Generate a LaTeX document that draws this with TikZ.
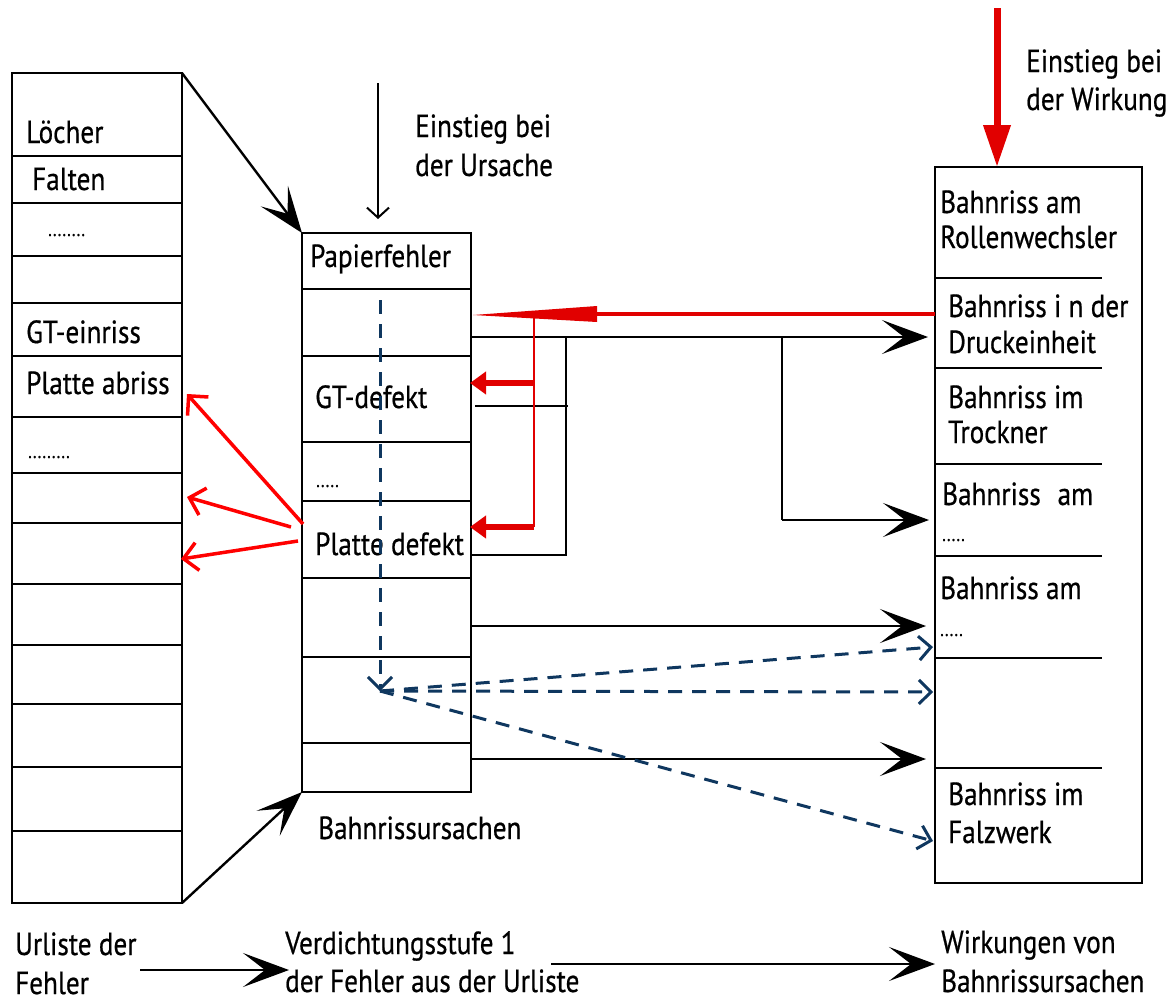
\documentclass[tikz,border=0pt]{standalone}
\usepackage{fontspec}
\setmainfont{PT Sans}[FakeStretch=0.85,FakeBold=0.6]
\usetikzlibrary{arrows.meta}
\definecolor{navy}{RGB}{15,55,95}
\definecolor{dred}{RGB}{225,0,0}
\definecolor{bred}{RGB}{255,0,0}
\begin{document}
\begin{tikzpicture}[x=1pt,y=-1pt,
  box/.style={draw=black,line width=2.4pt},
  sep/.style={draw=black,line width=2pt},
  lbl/.style={anchor=base west,inner sep=0pt,font=\fontsize{32}{36}\selectfont},
  dotlbl/.style={anchor=base west,inner sep=0pt,font=\fontsize{20}{22}\selectfont},
  flow/.style={draw=black,line width=2.4pt,-{Stealth[length=46pt,width=34pt,inset=22pt]}},
  conn/.style={draw=black,line width=2.2pt},
  thinarrow/.style={draw=black,line width=2pt,-{Straight Barb[length=10pt,width=22pt]}},
  redbig/.style={draw=dred,line width=7pt,-{Triangle[length=42pt,width=26pt]}},
  redbranch/.style={draw=dred,line width=6pt,-{Triangle[length=16pt,width=22pt]}},
  redthin/.style={draw=dred,line width=2.2pt},
  reddiag/.style={draw=bred,line width=3.5pt,-{Straight Barb[length=14pt,width=28pt]}},
  bluedash/.style={draw=navy,line width=3pt,dash pattern=on 14pt off 10pt,-{Straight Barb[length=12pt,width=24pt]}}
]
\useasboundingbox (0,0) rectangle (1175,1002);

% ---------- left column ----------
\draw[box] (12,73) rectangle (182,903);
\foreach \y in {156,203,256,303,356,417,473,523,584,645,704,767,831}
  \draw[sep] (12,\y) -- (182,\y);
\node[lbl] (l1) at (26,143) {Löcher};
\node[lbl] (l2) at (32,190) {Falten};
\node[dotlbl] (l3) at (48,236) {........};
\node[lbl] (l4) at (26,343) {GT-einriss};
\node[lbl] (l5) at (26,394) {Platte abriss};
\node[dotlbl] (l6) at (28,458) {.........};
\coordinate (Ltr) at (182,73);
\coordinate (Lbr) at (182,903);
\coordinate (Lr5) at (187,394);
\coordinate (Lr8) at (187,497);
\coordinate (Lr9) at (181,559);

% ---------- middle column ----------
\draw[box] (302,233) rectangle (471,792);
\foreach \y in {289,356,442,501,578,657,743}
  \draw[sep] (302,\y) -- (471,\y);
\node[lbl] (m1) at (310,267) {Papierfehler};
\node[lbl] (m2) at (315,408) {GT-defekt};
\node[dotlbl] (m3) at (316,487) {.....};
\node[lbl] (m4) at (315,555) {Platte defekt};
\node[lbl] (m5) at (318,839) {Bahnrissursachen};
\coordinate (Mtl) at (302,233);
\coordinate (Mbl) at (302,792);

% ---------- right column ----------
\draw[box] (935,167) rectangle (1142,883);
\foreach \y in {278,368,464,556,658,768}
  \draw[sep] (935,\y) -- (1102,\y);
\node[lbl] (r1) at (940,213) {Bahnriss am};
\node[lbl] (r1b) at (940,248) {Rollenwechsler};
\node[lbl] (r2) at (948,317) {Bahnriss i n der};
\node[lbl] (r2b) at (948,353) {Druckeinheit};
\node[lbl] (r3) at (948,408) {Bahnriss im};
\node[lbl] (r3b) at (948,443) {Trockner};
\node[lbl] (r4) at (942,505) {Bahnriss\hspace{0.3em} am};
\node[dotlbl] (r4b) at (942,541) {.....};
\node[lbl] (r5) at (940,599) {Bahnriss am};
\node[dotlbl] (r5b) at (940,636) {.....};
\node[lbl] (r6) at (948,805) {Bahnriss im};
\node[lbl] (r6b) at (948,843) {Falzwerk};

% ---------- entry labels ----------
\node[lbl] (u1) at (415,137) {Einstieg bei};
\node[lbl] (u2) at (415,176) {der Ursache};
\node[lbl] (w1) at (1026,72) {Einstieg bei};
\node[lbl] (w2) at (1026,110) {der Wirkung};
\coordinate (Utop) at (378,83);
\coordinate (Ubot) at (378,219);
\coordinate (Wtop) at (997,8);
\coordinate (Wbot) at (997,167);
\draw[thinarrow] (Utop) -- (Ubot);
\draw[redbig] (Wtop) -- (Wbot);

% ---------- flow between columns ----------
\draw[flow] (Ltr) -- (Mtl);
\draw[flow] (Lbr) -- (Mbl);

% black connectors middle -> right
\coordinate (a1s) at (471,337);
\coordinate (a1e) at (928,337);
\coordinate (j1) at (566,337);
\coordinate (j1b) at (566,555);
\coordinate (p4) at (471,555);
\coordinate (s1) at (475,406);
\coordinate (s2) at (568,406);
\coordinate (j2) at (782,337);
\coordinate (j2b) at (782,520);
\coordinate (a2e) at (929,520);
\coordinate (a3s) at (471,626);
\coordinate (a3e) at (926,626);
\coordinate (a4s) at (471,759);
\coordinate (a4e) at (926,759);
\draw[conn] (j1) -- (j1b) -- (p4);
\draw[conn] (s1) -- (s2);
\draw[conn] (j2) -- (j2b);
\draw[flow] (j2b) -- (a2e);
\draw[flow] (a1s) -- (a1e);
\draw[flow] (a3s) -- (a3e);
\draw[flow] (a4s) -- (a4e);

% red feedback from effect to causes
\coordinate (rs) at (935,314);
\coordinate (rw) at (597,314);
\coordinate (rv1) at (534,314);
\coordinate (rv2) at (534,527);
\coordinate (rb1) at (534,383);
\coordinate (rt1) at (470,383);
\coordinate (rt2) at (470,527);
\draw[draw=dred,line width=3.5pt] (rs) -- (rw);
\fill[dred] (597,306) -- (597,322) -- (473,315) -- cycle;
\draw[redthin] (rv1) -- (rv2);
\draw[redbranch] (rb1) -- (rt1);
\draw[redbranch] (rv2) -- (rt2);

% red arrows from Platte defekt to the raw list
\coordinate (pd1) at (303,524);
\coordinate (pd2) at (291,527);
\coordinate (pd3) at (298,541);
\draw[reddiag] (pd1) -- (Lr5);
\draw[reddiag] (pd2) -- (Lr8);
\draw[reddiag] (pd3) -- (Lr9);

% blue dashed search
\coordinate (bs) at (380,300);
\coordinate (bo) at (380,691);
\coordinate (be1) at (933,647);
\coordinate (be2) at (933,692);
\coordinate (be3) at (933,841);
\draw[bluedash] (bs) -- (bo);
\draw[bluedash] (bo) -- (be1);
\draw[bluedash] (bo) -- (be2);
\draw[bluedash] (bo) -- (be3);

% ---------- bottom legend ----------
\node[lbl] (b1) at (15,955) {Urliste der};
\node[lbl] (b1b) at (15,994) {Fehler};
\node[lbl] (b2) at (285,954) {Verdichtungsstufe 1};
\node[lbl] (b2b) at (285,992) {der Fehler aus der Urliste};
\node[lbl] (b3) at (941,953) {Wirkungen von};
\node[lbl] (b3b) at (941,992) {Bahnrissursachen};
\coordinate (bl1) at (140,970);
\coordinate (bl2) at (289,970);
\coordinate (bl3) at (551,964);
\coordinate (bl4) at (935,964);
\draw[flow] (bl1) -- (bl2);
\draw[flow] (bl3) -- (bl4);
\end{tikzpicture}
\end{document}
